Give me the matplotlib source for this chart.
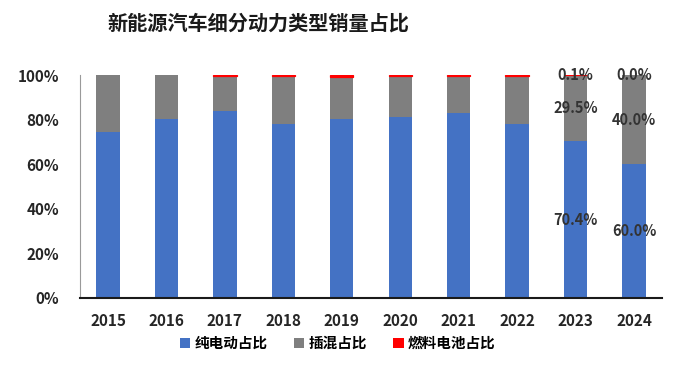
import matplotlib
matplotlib.use("Agg")
import matplotlib.pyplot as plt
import numpy as np

plt.rcParams["font.family"] = ["Noto Sans CJK SC", "DejaVu Sans"]

ANOS = ["2015", "2016", "2017", "2018", "2019", "2020", "2021", "2022", "2023", "2024"]
PURO_ELETRICO = [74.6, 80.1, 83.9, 78.0, 80.1, 81.3, 82.8, 77.9, 70.4, 60.0]
HIBRIDO = [25.4, 19.9, 15.6, 21.6, 19.2, 18.3, 16.8, 21.7, 29.5, 40.0]
CELULA = [0.0, 0.0, 0.5, 0.4, 0.7, 0.4, 0.4, 0.4, 0.1, 0.0]
ANOS_COM_ROTULO = ["2023", "2024"]

SERIES = [
    ("纯电动占比", PURO_ELETRICO, "#4472C4"),
    ("插混占比", HIBRIDO, "#7F7F7F"),
    ("燃料电池占比", CELULA, "#FF0000"),
]


def gerar_grafico():
    fig = plt.figure(figsize=(6.87, 3.71), dpi=100)
    ax = fig.add_axes([80 / 687, 1 - 298 / 371, 582 / 687, 223 / 371])

    x = np.arange(len(ANOS))
    base = np.zeros(len(ANOS))
    for nome, valores, cor in SERIES:
        v = np.array(valores) / 100
        # fatias muito finas (celula) ficam invisiveis sem uma borda
        bordas = [0.9 if nome == "燃料电池占比" and val > 0 else 0 for val in valores]
        ax.bar(x, v, 0.4, bottom=base, color=cor, label=nome,
               edgecolor=cor, linewidth=bordas)
        for i, ano in enumerate(ANOS):
            if ano in ANOS_COM_ROTULO:
                ax.text(x[i], base[i] + v[i] / 2, f"{valores[i]:.1f}%",
                        ha="center", va="center", fontsize=10.5,
                        fontweight="bold", color="#333333", zorder=5)
        base = base + v

    ax.set_xlim(-0.48, 9.48)
    ax.set_ylim(0, 1)
    ax.set_xticks(x)
    ax.set_xticklabels(ANOS, fontsize=11, fontweight="bold", color="#262626")
    ax.set_yticks(np.linspace(0, 1, 6))
    ax.set_yticklabels([f"{int(t)}%" for t in np.linspace(0, 100, 6)],
                       fontsize=11, fontweight="bold", color="#262626")
    ax.tick_params(axis="both", length=0)
    ax.tick_params(axis="x", pad=11)
    ax.tick_params(axis="y", pad=15)

    for lado in ["top", "right"]:
        ax.spines[lado].set_visible(False)
    ax.spines["left"].set_color("#9a9a9a")
    ax.spines["left"].set_linewidth(0.8)
    ax.spines["bottom"].set_color("#1a1a1a")
    ax.spines["bottom"].set_linewidth(1.5)

    fig.text(258 / 687, 1 - 23 / 371, "新能源汽车细分动力类型销量占比",
             ha="center", va="center", fontsize=14.5, fontweight="heavy", color="#1a1a1a")

    fig.legend(loc="center", bbox_to_anchor=(338 / 687, 1 - 343 / 371), ncol=3,
               frameon=False, prop={"size": 10.5, "weight": "bold"},
               handlelength=0.7, handleheight=0.7,
               handletextpad=0.3, columnspacing=1.8)

    fig.savefig("out.png", dpi=100)
    plt.close(fig)


if __name__ == "__main__":
    gerar_grafico()
